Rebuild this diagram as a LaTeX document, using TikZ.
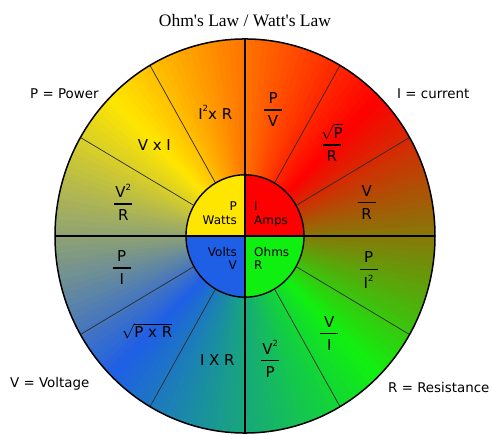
\RequirePackage{fix-cm}
\documentclass[tikz,border=0pt]{standalone}
\usepackage{amsmath}
\usepackage{fontspec}
\setsansfont{DejaVu Sans}
\newfontfamily\titlefont{Liberation Serif}
\usepackage{xcolor}
\usepackage{tikz}
\definecolor{powyellow}{HTML}{FFE600}
\definecolor{ampred}{HTML}{FF0000}
\definecolor{voltblue}{HTML}{1F5FE6}
\definecolor{ohmgreen}{HTML}{10F010}
\definecolor{sectorline}{HTML}{2B2B2B}
\newcommand{\fr}[2]{$\genfrac{}{}{1.6pt}{0}{\makebox[18pt]{#1}}{\mbox{#2}}$}
\newcommand{\sqr}{\raisebox{0.5em}{\fontsize{8.5}{8.5}\selectfont 2}}

\begin{document}
\begin{tikzpicture}[x=1pt, y=1.037pt,
    formula/.style={font=\sffamily\fontsize{15}{18}\selectfont, inner sep=0pt},
    quadlabel/.style={font=\sffamily\fontsize{12}{13.6}\selectfont, inner sep=0pt},
    sidelabel/.style={font=\sffamily\fontsize{13.4}{16}\selectfont, inner sep=0pt}]
  \useasboundingbox (-245pt,-199pt) rectangle (247pt,236pt);

  % outer ring, colour sweeps red -> yellow -> blue -> green -> red
  \foreach \from/\to [count=\k from 0] in {ampred/powyellow, powyellow/voltblue, voltblue/ohmgreen, ohmgreen/ampred}
    \foreach \s in {0,2,...,88}{
      \pgfmathsetmacro\p{100-(\s+1)/0.9}
      \pgfmathsetmacro\a{45+90*\k+\s}
      \fill[\from!\p!\to] (0,0) -- (\a:190) arc[start angle=\a, end angle=\a+2.4, radius=190] -- cycle;
    }

  % inner quadrants
  \fill[powyellow] (0,0) -- (90:59) arc[start angle=90, end angle=180, radius=59] -- cycle;
  \fill[ampred] (0,0) -- (0:59) arc[start angle=0, end angle=90, radius=59] -- cycle;
  \fill[voltblue] (0,0) -- (180:59) arc[start angle=180, end angle=270, radius=59] -- cycle;
  \fill[ohmgreen] (0,0) -- (270:59) arc[start angle=270, end angle=360, radius=59] -- cycle;

  \foreach \a in {30,60,120,150,210,240,300,330}
    \draw[sectorline, line width=0.7pt] (\a:59) -- (\a:190);
  \draw[line width=1.5pt] (180:190) -- (0:190) (90:190) -- (270:190);
  \draw[line width=1.4pt] (0,0) circle[radius=59];
  \draw[line width=1.5pt] (0,0) circle[radius=190];

  % formulas round the ring
  \foreach \ang/\rad/\txt [count=\i] in {
      15/126/{\fr{V}{R}},
      46/125/{\fr{$\sqrt{\mbox{P}}$}{R}},
      77/125/{\fr{P}{V}},
      104/123/{I\sqr x R},
      136/126/{V x I},
      165/126/{\fr{V\sqr}{R}},
      194/127/{\fr{P}{I}},
      223/134/{$\sqrt{\mbox{P x R}}$},
      257/123/{I X R},
      282/121/{\fr{V\sqr}{P}},
      312/126/{\fr{V}{I}},
      345/128/{\fr{P}{I\sqr}}}
    \node[formula] (eq\i) at (\ang:\rad) {\txt};

  % the four quantities
  \node[quadlabel, align=right, anchor=north east] (watts) at (-8pt,34pt) {P\\Watts};
  \node[quadlabel, align=left, anchor=north west] (amps) at (9pt,34pt) {I\\Amps};
  \node[quadlabel, align=right, anchor=north east] (volts) at (-8pt,-11pt) {Volts\\V};
  \node[quadlabel, align=left, anchor=north west] (ohms) at (9pt,-11pt) {Ohms\\R};

  \node[sidelabel, anchor=base west] (power) at (-215pt,137pt) {P = Power};
  \node[sidelabel, anchor=base west] (current) at (152pt,137pt) {I = current};
  \node[sidelabel, anchor=base west] (voltage) at (-235pt,-152pt) {V = Voltage};
  \node[sidelabel, anchor=base west] (resist) at (143pt,-157pt) {R = Resistance};

  \node[font=\titlefont\fontsize{17.5}{20}\selectfont, inner sep=0pt, anchor=base] (title)
    at (0pt,209.5pt) {Ohm\textquotesingle s Law / Watt\textquotesingle s Law};
\end{tikzpicture}
\end{document}
